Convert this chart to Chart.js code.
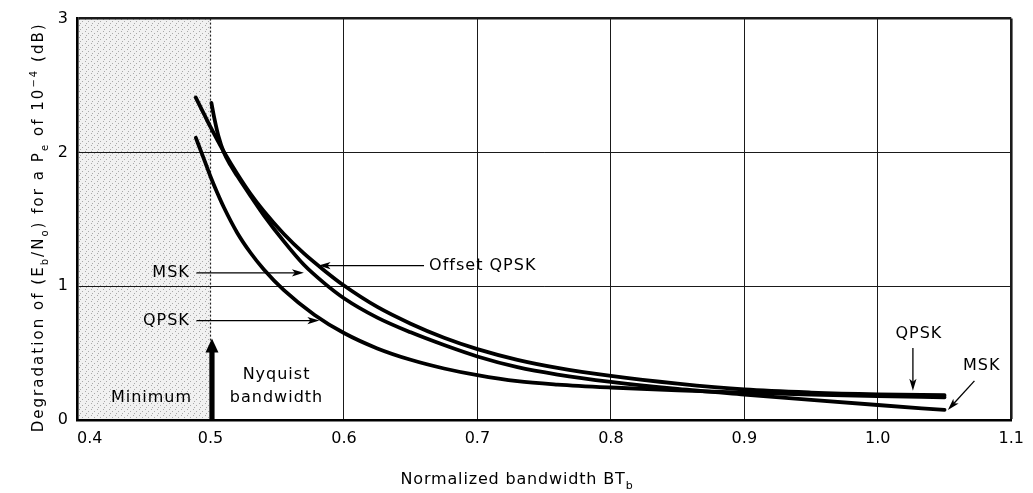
<!DOCTYPE html>
<html><head><meta charset="utf-8">
<script src="https://cdn.jsdelivr.net/npm/chart.js@4/dist/chart.umd.min.js"></script>
<style>html,body{margin:0;padding:0;background:#fff;}canvas{display:block;}</style>
</head><body>
<canvas id="c" width="1033" height="493"></canvas>
<script>
// ---- data ----
const xTickValues = [0.4, 0.5, 0.6, 0.7, 0.8, 0.9, 1.0, 1.1];
const xTickLabels = ['0.4', '0.5', '0.6', '0.7', '0.8', '0.9', '1.0', '1.1'];
const yTickValues = [0, 1, 2, 3];
const yTickLabels = ['0', '1', '2', '3'];

const seriesNames = ['Offset QPSK', 'MSK', 'QPSK'];

const oqpskX = [0.489, 0.495, 0.500, 0.505, 0.510, 0.520, 0.530, 0.540, 0.555, 0.570, 0.585, 0.600, 0.625, 0.650, 0.675, 0.700, 0.730, 0.760, 0.800, 0.850, 0.900, 0.950, 1.000, 1.050];
const oqpskY = [2.41, 2.29, 2.19, 2.095, 2.005, 1.84, 1.69, 1.56, 1.39, 1.245, 1.12, 1.005, 0.845, 0.72, 0.615, 0.53, 0.45, 0.39, 0.33, 0.272, 0.228, 0.205, 0.192, 0.186];

const mskX = [0.5007, 0.503, 0.506, 0.510, 0.515, 0.520, 0.530, 0.540, 0.555, 0.570, 0.585, 0.600, 0.625, 0.650, 0.675, 0.700, 0.730, 0.760, 0.800, 0.850, 0.900, 0.950, 1.000, 1.050];
const mskY = [2.37, 2.25, 2.12, 2.00, 1.905, 1.825, 1.675, 1.53, 1.335, 1.16, 1.025, 0.91, 0.765, 0.655, 0.56, 0.475, 0.395, 0.34, 0.285, 0.232, 0.19, 0.15, 0.112, 0.075];

const qpskX = [0.489, 0.494, 0.500, 0.505, 0.510, 0.520, 0.530, 0.540, 0.555, 0.578, 0.600, 0.625, 0.650, 0.675, 0.700, 0.730, 0.760, 0.800, 0.850, 0.900, 0.950, 1.000, 1.050];
const qpskY = [2.11, 1.98, 1.82, 1.70, 1.59, 1.40, 1.25, 1.125, 0.97, 0.785, 0.65, 0.535, 0.45, 0.385, 0.335, 0.29, 0.265, 0.243, 0.222, 0.205, 0.19, 0.178, 0.17];

const nyquistBandwidth = 0.5;
const nyquistArrowTop = 0.61;

// annotation texts and their anchors (data units)
const notes = [
  {text: 'Minimum',     x: 0.4558, y: 0.169, align: 'center'},
  {text: 'Nyquist',     x: 0.5495, y: 0.337, align: 'center'},
  {text: 'bandwidth',   x: 0.5495, y: 0.169, align: 'center'},
  {text: 'MSK',         x: 0.4845, y: 1.10,  align: 'right'},
  {text: 'QPSK',        x: 0.4845, y: 0.743, align: 'right'},
  {text: 'Offset QPSK', x: 0.6638, y: 1.154, align: 'left'},
  {text: 'QPSK',        x: 1.0308, y: 0.647, align: 'center'},
  {text: 'MSK',         x: 1.0779, y: 0.403, align: 'center'}
];
const pointers = [
  {from: [0.4895, 1.10],  to: [0.5700, 1.10]},
  {from: [0.4895, 0.743], to: [0.5816, 0.743]},
  {from: [0.660, 1.154],  to: [0.581, 1.154]},
  {from: [1.0263, 0.538], to: [1.0263, 0.218]},
  {from: [1.0724, 0.292], to: [1.0525, 0.075]}
];

const yTitle = [
  {t: 'Degradation of (E'}, {t: 'b', s: 'sub'}, {t: '/N'}, {t: 'o', s: 'sub'},
  {t: ') for a P'}, {t: 'e', s: 'sub'}, {t: ' of 10'}, {t: '\u22124', s: 'sup'}, {t: ' (dB)'}
];
const xTitle = [{t: 'Normalized bandwidth BT'}, {t: 'b', s: 'sub'}];

// ---- helpers ----
const FONT = "'DejaVu Sans', 'Liberation Sans', sans-serif";
const zip = (xs, ys) => xs.map((v, i) => ({x: v, y: ys[i]}));

function makePattern(ctx) {
  const p = document.createElement('canvas');
  p.width = 6; p.height = 6;
  const c = p.getContext('2d');
  c.fillStyle = '#f1f1f1'; c.fillRect(0, 0, 6, 6);
  c.fillStyle = '#a9a9a9';
  c.fillRect(1, 1, 1, 1); c.fillRect(4, 3, 1, 1); c.fillRect(2, 5, 1, 1);
  return ctx.createPattern(p, 'repeat');
}

function setSpacing(ctx, s) { if ('letterSpacing' in ctx) ctx.letterSpacing = s + 'px'; }

function richText(ctx, segs, cx, cy, size, targetW, rot) {
  const small = Math.round(size * 0.68);
  setSpacing(ctx, 0);
  let w0 = 0, n = 0;
  segs.forEach(g => {
    ctx.font = (g.s ? small : size) + 'px ' + FONT;
    g.w = ctx.measureText(g.t).width; w0 += g.w; n += g.t.length;
  });
  const sp = Math.max(0, (targetW - w0) / n);
  const total = w0 + sp * n;
  ctx.save();
  ctx.translate(cx, cy);
  if (rot) ctx.rotate(rot);
  ctx.textBaseline = 'alphabetic';
  ctx.textAlign = 'left';
  ctx.fillStyle = '#000';
  setSpacing(ctx, sp);
  let x = -total / 2;
  const base = size * 0.36;
  segs.forEach(g => {
    ctx.font = (g.s ? small : size) + 'px ' + FONT;
    const dy = g.s === 'sub' ? size * 0.3 : g.s === 'sup' ? -size * 0.45 : 0;
    ctx.fillText(g.t, x, base + dy);
    x += g.w + sp * g.t.length;
  });
  ctx.restore();
  setSpacing(ctx, 0);
}

function arrow(ctx, x1, y1, x2, y2, len, half, lw) {
  const a = Math.atan2(y2 - y1, x2 - x1), c = Math.cos(a), s = Math.sin(a);
  ctx.lineWidth = lw;
  ctx.beginPath();
  ctx.moveTo(x1, y1);
  ctx.lineTo(x2 - c * len * 0.7, y2 - s * len * 0.7);
  ctx.stroke();
  ctx.beginPath();
  ctx.moveTo(x2, y2);
  ctx.lineTo(x2 - c * len - s * half, y2 - s * len + c * half);
  ctx.lineTo(x2 - c * len * 0.75, y2 - s * len * 0.75);
  ctx.lineTo(x2 - c * len + s * half, y2 - s * len - c * half);
  ctx.closePath();
  ctx.fill();
}

const decor = {
  id: 'decor',
  beforeDraw(chart) {
    const {ctx, chartArea: a, scales: {x}} = chart;
    ctx.save();
    ctx.fillStyle = '#fff';
    ctx.fillRect(0, 0, chart.width, chart.height);
    const x0 = x.getPixelForValue(xTickValues[0]);
    const x1 = x.getPixelForValue(nyquistBandwidth);
    ctx.fillStyle = makePattern(ctx);
    ctx.fillRect(x0, a.top, x1 - x0, a.bottom - a.top);
    ctx.restore();
  },
  beforeDatasetsDraw(chart) {
    const {ctx, chartArea: a, scales: {x}} = chart;
    const px = Math.round(x.getPixelForValue(nyquistBandwidth)) + 0.5;
    ctx.save();
    ctx.strokeStyle = '#222';
    ctx.lineWidth = 1.2;
    ctx.setLineDash([2, 2]);
    ctx.beginPath(); ctx.moveTo(px, a.top); ctx.lineTo(px, a.bottom); ctx.stroke();
    ctx.restore();
  },
  afterDatasetsDraw(chart) {
    const {ctx, chartArea: a, scales: {x, y}} = chart;
    ctx.save();
    ctx.fillStyle = '#000';
    ctx.strokeStyle = '#000';
    // Nyquist arrow
    const nx = x.getPixelForValue(nyquistBandwidth) + 1.5;
    const ny0 = y.getPixelForValue(0), ny1 = y.getPixelForValue(nyquistArrowTop);
    ctx.fillRect(nx - 2.6, ny1 + 11, 5.2, ny0 - ny1 - 11);
    ctx.beginPath();
    ctx.moveTo(nx, ny1); ctx.lineTo(nx - 6.5, ny1 + 14); ctx.lineTo(nx + 6.5, ny1 + 14);
    ctx.closePath(); ctx.fill();
    // pointers
    pointers.forEach(p => arrow(ctx,
      x.getPixelForValue(p.from[0]), y.getPixelForValue(p.from[1]),
      x.getPixelForValue(p.to[0]), y.getPixelForValue(p.to[1]), 12, 3.6, 1.3));
    // notes
    ctx.font = '16px ' + FONT;
    ctx.textBaseline = 'middle';
    setSpacing(ctx, 1);
    notes.forEach(n => {
      ctx.textAlign = n.align;
      ctx.fillText(n.text, x.getPixelForValue(n.x), y.getPixelForValue(n.y));
    });
    setSpacing(ctx, 0);
    ctx.restore();
    // axis titles
    richText(ctx, yTitle, 38, (a.top + a.bottom) / 2 + 8, 15, 410, -Math.PI / 2);
    richText(ctx, xTitle, 517, 478, 16, 233, 0);
  }
};

const isVal = (ctx, v) => ctx.tick && Math.abs(ctx.tick.value - v) < 1e-9;

new Chart(document.getElementById('c'), {
  type: 'line',
  data: {
    datasets: [
      {label: seriesNames[0], data: zip(oqpskX, oqpskY)},
      {label: seriesNames[1], data: zip(mskX, mskY)},
      {label: seriesNames[2], data: zip(qpskX, qpskY)}
    ].map(d => Object.assign(d, {
      borderColor: '#000', borderWidth: 3.8, pointRadius: 0, fill: false,
      cubicInterpolationMode: 'monotone', borderCapStyle: 'round', borderJoinStyle: 'round'
    }))
  },
  options: {
    responsive: false,
    devicePixelRatio: 1,
    animation: false,
    layout: {padding: {left: 0, right: 19, top: 14, bottom: 0}},
    plugins: {legend: {display: false}, tooltip: {enabled: false}, title: {display: false}},
    scales: {
      x: {
        type: 'linear', min: 0.4, max: 1.1,
        afterBuildTicks: s => { s.ticks = xTickValues.map(v => ({value: v})); },
        afterFit: s => { s.height = 73; },
        ticks: {
          callback: (v, i) => i === 0 ? '     ' + xTickLabels[i] : xTickLabels[i],
          font: {family: FONT, size: 16}, color: '#000', padding: 9, maxRotation: 0, autoSkip: false
        },
        grid: {
          drawTicks: false,
          color: c => isVal(c, nyquistBandwidth) ? 'rgba(0,0,0,0)' : '#1a1a1a',
          lineWidth: c => isVal(c, 1.1) ? 2.6 : 1
        },
        border: {display: true, color: '#000', width: 2.6}
      },
      y: {
        type: 'linear', min: 0, max: 3,
        afterBuildTicks: s => { s.ticks = yTickValues.map(v => ({value: v})); },
        afterFit: s => { s.width = 77; },
        ticks: {
          callback: (v, i) => yTickLabels[i],
          font: {family: FONT, size: 16}, color: '#000', padding: 9
        },
        grid: {
          drawTicks: false,
          color: '#1a1a1a',
          lineWidth: c => isVal(c, 3) ? 2.6 : 1
        },
        border: {display: true, color: '#000', width: 2.6}
      }
    }
  },
  plugins: [decor]
});
</script>
</body></html>
